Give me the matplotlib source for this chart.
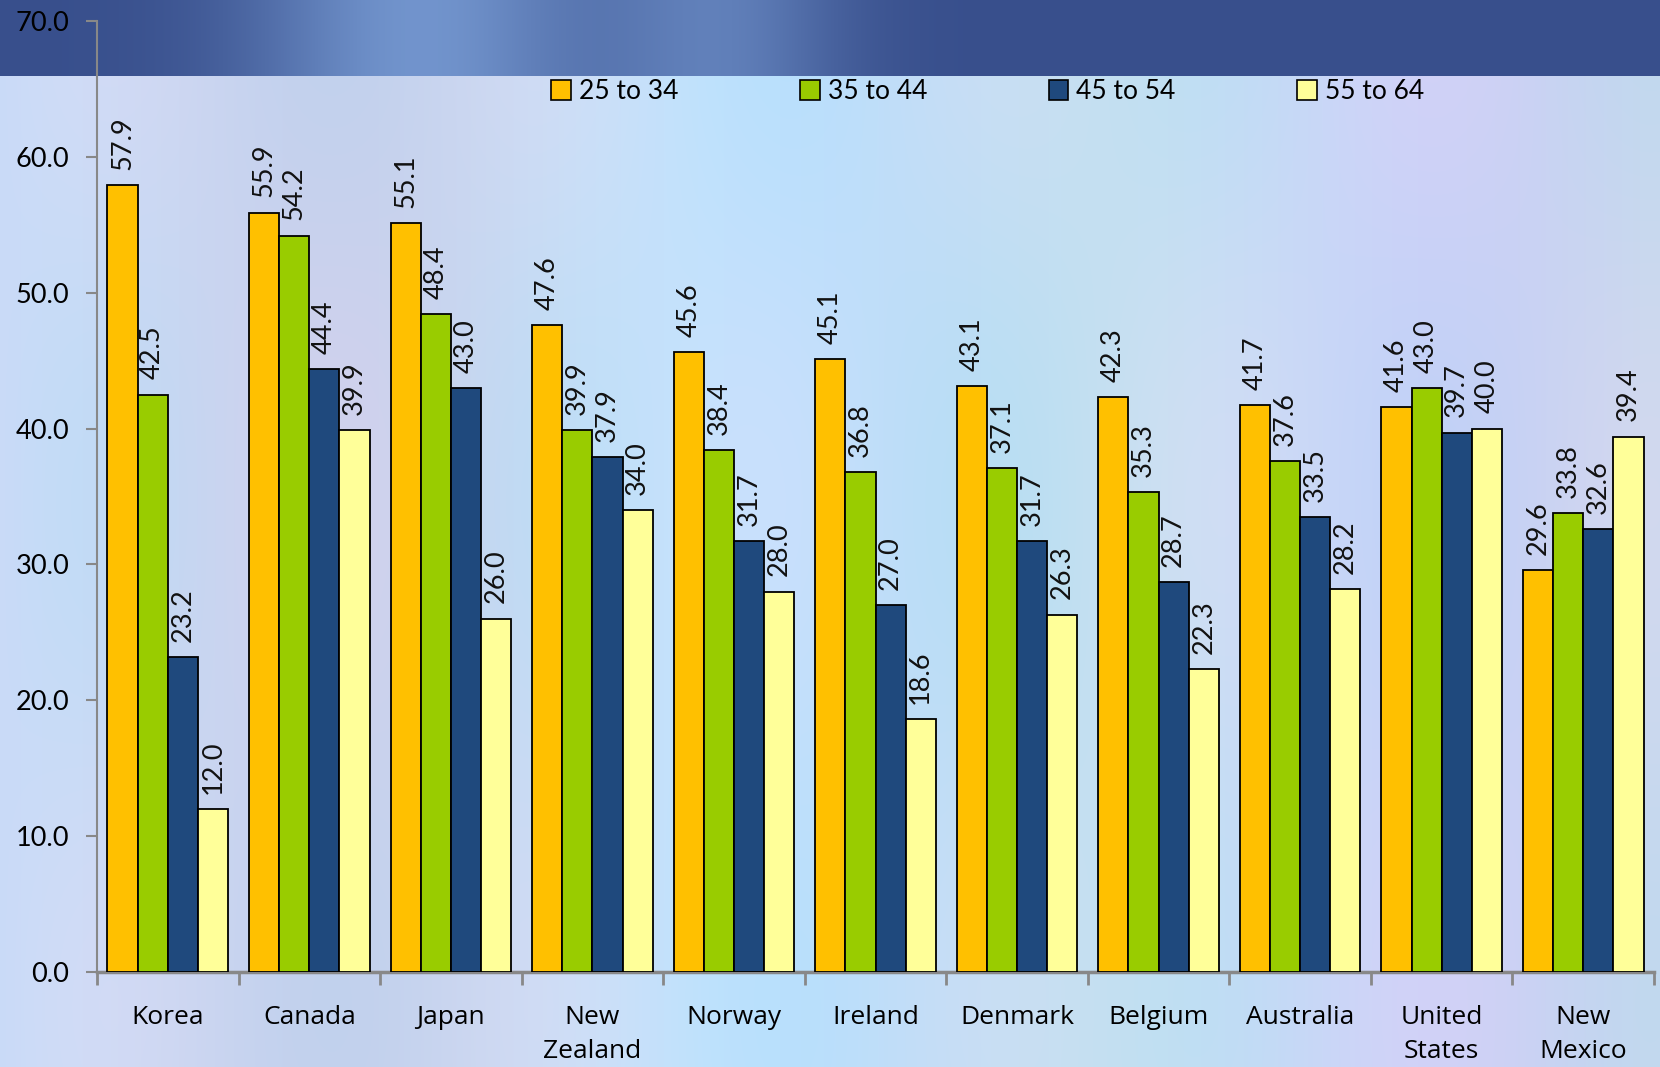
import numpy as np
import matplotlib.pyplot as plt
from matplotlib.patches import Patch

countries = ["Korea", "Canada", "Japan", "New\nZealand", "Norway", "Ireland",
             "Denmark", "Belgium", "Australia", "United\nStates", "New\nMexico"]
age_groups = ["25 to 34", "35 to 44", "45 to 54", "55 to 64"]
age_25_34 = [57.9, 55.9, 55.1, 47.6, 45.6, 45.1, 43.1, 42.3, 41.7, 41.6, 29.6]
age_35_44 = [42.5, 54.2, 48.4, 39.9, 38.4, 36.8, 37.1, 35.3, 37.6, 43.0, 33.8]
age_45_54 = [23.2, 44.4, 43.0, 37.9, 31.7, 27.0, 31.7, 28.7, 33.5, 39.7, 32.6]
age_55_64 = [12.0, 39.9, 26.0, 34.0, 28.0, 18.6, 26.3, 22.3, 28.2, 40.0, 39.4]
colors = ["#FFC000", "#99CC00", "#1F497D", "#FFFF99"]

W, H = 1660, 1067
fig = plt.figure(figsize=(W / 100, H / 100), dpi=100)

# background: soft blue/lavender picture with a dark band on top
xx = np.arange(W)[None, :]
yy = np.arange(H)[:, None]
bg = np.zeros((H, W, 3))
bg[..., 0] = 0.79 + 0.03 * np.sin(xx / 70.0) * np.cos(yy / 160.0) - 0.04 * np.exp(-((xx - 880) / 260.0) ** 2)
bg[..., 1] = 0.84 + 0.02 * np.sin(xx / 90.0 + 1) + 0.05 * np.exp(-((xx - 880) / 260.0) ** 2)
bg[..., 2] = 0.95 + 0.02 * np.cos(xx / 110.0) + 0.03 * np.exp(-((xx - 880) / 260.0) ** 2)
band = yy < 76
light = np.exp(-((xx - 420) / 170.0) ** 2) * 0.9 + np.exp(-((xx - 720) / 120.0) ** 2) * 0.6
top = np.zeros((H, W, 3))
top[..., 0] = 0.22 + 0.25 * light
top[..., 1] = 0.31 + 0.30 * light
top[..., 2] = 0.55 + 0.28 * light
bg = np.where(band[..., None], top, bg)
bg = np.clip(bg, 0, 1)
bax = fig.add_axes([0, 0, 1, 1], zorder=-1)
bax.imshow(bg, aspect="auto", extent=[0, W, H, 0])
bax.axis("off")

ax = fig.add_axes([97 / W, 1 - 972 / H, (1654 - 97) / W, (972 - 21) / H])
ax.set_facecolor("none")

series = [age_25_34, age_35_44, age_45_54, age_55_64]
x = np.arange(len(countries))
bw = 0.213
for i, vals in enumerate(series):
    pos = x + (i - 1.5) * bw
    ax.bar(pos, vals, width=bw, color=colors[i], edgecolor="black", linewidth=1.3, zorder=3)
    for p, v in zip(pos, vals):
        ax.annotate(f"{v:.1f}", (p, v), xytext=(0, 11), textcoords="offset points",
                    rotation=90, ha="center", va="bottom", fontsize=19.5,
                    family="Lato", color="#111111")

ax.set_xlim(-0.5, len(countries) - 0.5)
ax.set_ylim(0, 70)
ax.set_yticks(np.arange(0, 71, 10))
ax.set_yticklabels([f"{t:.1f}" for t in np.arange(0, 71, 10)], fontsize=19.5, family="Lato")
ax.set_xticks(x)
ax.set_xticklabels(countries, fontsize=19, family="Open Sans", linespacing=1.45)
ax.set_xticks(np.arange(-0.5, len(countries), 1), minor=True)
ax.tick_params(axis="x", which="major", length=0, pad=24)
ax.tick_params(axis="x", which="minor", length=9, width=2, color="#888888")
ax.tick_params(axis="y", length=8, width=1.5, color="#888888", pad=12)

for s in ["top", "right"]:
    ax.spines[s].set_visible(False)
ax.spines["left"].set_color("#888888")
ax.spines["left"].set_linewidth(1.5)
ax.spines["bottom"].set_color("#888888")
ax.spines["bottom"].set_linewidth(2.5)

handles = [Patch(facecolor=c, edgecolor="black", linewidth=1.2) for c in colors]
fig.legend(handles, age_groups, loc="center", bbox_to_anchor=(0.595, 0.914), ncol=4,
           frameon=False, prop={"family": "Lato", "size": 19},
           handlelength=0.75, handleheight=0.75, handletextpad=0.3, columnspacing=4.6)

fig.savefig("out.png", dpi=100)
